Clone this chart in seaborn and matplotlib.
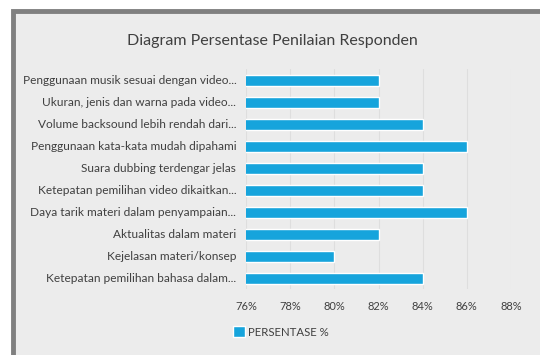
import matplotlib
matplotlib.use("Agg")
import matplotlib.pyplot as plt
import seaborn as sns
import pandas as pd
from matplotlib.patches import Rectangle, Patch

categories = [
    "Penggunaan musik sesuai dengan video...",
    "Ukuran, jenis dan warna pada video...",
    "Volume backsound lebih rendah dari...",
    "Penggunaan kata-kata mudah dipahami",
    "Suara dubbing terdengar jelas",
    "Ketepatan pemilihan video dikaitkan...",
    "Daya tarik materi dalam penyampaian...",
    "Aktualitas dalam materi",
    "Kejelasan materi/konsep",
    "Ketepatan pemilihan bahasa dalam...",
]
values = [82, 82, 84, 86, 84, 84, 86, 82, 80, 84]
tick_values = [76, 78, 80, 82, 84, 86, 88]
tick_labels = ["76%", "78%", "80%", "82%", "84%", "86%", "88%"]
series_name = "PERSENTASE %"
title = "Diagram Persentase Penilaian Responden"

df = pd.DataFrame({"cat": categories, "val": values})

sns.set_theme(style="white")
plt.rcParams["font.family"] = ["Lato", "DejaVu Sans"]

bar_color = "#16a4dc"
bg = "#ececec"

fig = plt.figure(figsize=(5.4, 3.55), dpi=100)
fig.patch.set_facecolor("white")
# chart frame
fig.patches.append(Rectangle((13 / 540, -0.05), 1.1, 1 - 11 / 355 + 0.05,
                             transform=fig.transFigure, facecolor=bg,
                             edgecolor="#808080", linewidth=3.5, zorder=-5))

ax = fig.add_axes([246 / 540, 1 - 289 / 355, (511 - 246) / 540, (289 - 69) / 355])
ax.set_zorder(1)
ax.set_facecolor(bg)
sns.barplot(data=df, x="val", y="cat", color=bar_color, width=0.5, ax=ax,
            orient="h", saturation=1)
ax.set_xlim(76, 88)
ax.set_xticks(tick_values)
ax.set_xticklabels(tick_labels)
ax.set_xlabel("")
ax.set_ylabel("")
for s in ax.spines.values():
    s.set_visible(False)
ax.grid(axis="x", color="#dedede", linewidth=0.8)
ax.set_axisbelow(True)
ax.tick_params(axis="y", labelsize=8.6, colors="#404040", pad=7, length=0)
ax.tick_params(axis="x", labelsize=8, colors="#404040", pad=9, length=0)

fig.text(272 / 540, 1 - 41 / 355, title, ha="center", va="center",
         fontsize=11.5, color="#404040")

leg = fig.legend(handles=[Patch(facecolor=bar_color, label=series_name)],
                 loc="center left", bbox_to_anchor=(228 / 540, 1 - 332 / 355),
                 frameon=False, fontsize=8.2, handlelength=1.1, handleheight=1.1,
                 handletextpad=0.3, borderaxespad=0)
for t in leg.get_texts():
    t.set_color("#404040")

fig.savefig("out.png", dpi=100, facecolor=fig.get_facecolor())
